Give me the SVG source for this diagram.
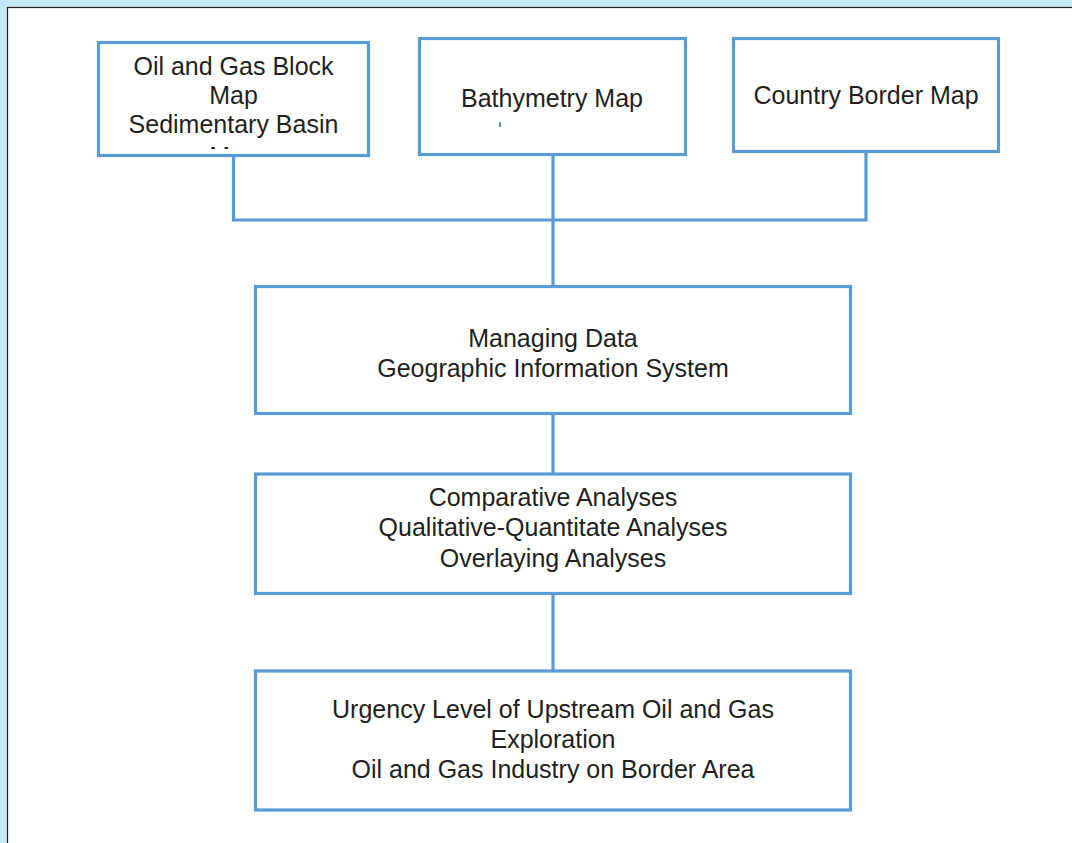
<svg xmlns="http://www.w3.org/2000/svg" width="1072" height="843" viewBox="0 0 1072 843">
<style>
.box{fill:#ffffff;stroke:#5b9bd5;stroke-width:3.2}
.con{fill:none;stroke:#5b9bd5;stroke-width:3.2}
.t{font-family:"Liberation Sans",Arial,sans-serif;font-size:25px;fill:#231f20;text-anchor:middle}
</style>
<defs>
<clipPath id="clip1"><rect x="100" y="44" width="267" height="105"/></clipPath>
</defs>
<rect x="0" y="0" width="1072" height="843" fill="#c6e9f8"/>
<rect x="7.5" y="7.5" width="1080" height="850" fill="#ffffff" stroke="#231f20" stroke-width="1.2"/>
<g id="connectors">
<polyline class="con" points="233.5,155.5 233.5,220 866,220 866,152"/>
<line class="con" x1="553" y1="155" x2="553" y2="287"/>
<line class="con" x1="553" y1="413" x2="553" y2="474"/>
<line class="con" x1="553" y1="593" x2="553" y2="671"/>
</g>
<g id="n1">
<rect class="box" x="98.5" y="42.5" width="270" height="113"/>
<g clip-path="url(#clip1)">
<text class="t" x="233.5" y="75">Oil and Gas Block</text>
<text class="t" x="233.5" y="104">Map</text>
<text class="t" x="233.5" y="133">Sedimentary Basin</text>
<text class="t" x="233.5" y="165">Map</text>
</g>
</g>
<g id="n2">
<rect class="box" x="419.5" y="38.5" width="266" height="116"/>
<text class="t" x="552" y="107">Bathymetry Map</text>
<rect x="499" y="122" width="2" height="5" fill="#5b9bd5"/>
</g>
<g id="n3">
<rect class="box" x="733.5" y="38.5" width="265" height="113"/>
<text class="t" x="866" y="104">Country Border Map</text>
</g>
<g id="n4">
<rect class="box" x="255.5" y="286.5" width="595" height="127"/>
<text class="t" x="553" y="347">Managing Data</text>
<text class="t" x="553" y="377">Geographic Information System</text>
</g>
<g id="n5">
<rect class="box" x="255.5" y="474" width="595" height="119.5"/>
<text class="t" x="553" y="506">Comparative Analyses</text>
<text class="t" x="553" y="536">Qualitative-Quantitate Analyses</text>
<text class="t" x="553" y="567">Overlaying Analyses</text>
</g>
<g id="n6">
<rect class="box" x="255.5" y="671" width="595" height="139"/>
<text class="t" x="553" y="718">Urgency Level of Upstream Oil and Gas</text>
<text class="t" x="553" y="748">Exploration</text>
<text class="t" x="553" y="778">Oil and Gas Industry on Border Area</text>
</g>
</svg>
